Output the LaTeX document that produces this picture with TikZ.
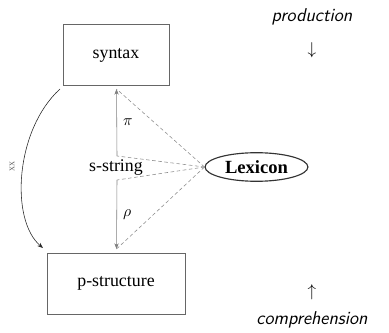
\documentclass[tikz,border=0pt]{standalone}
\usepackage{fontspec}
\setmainfont{Liberation Serif}
\usepackage{tikz}
\usetikzlibrary{arrows.meta, positioning, shapes.geometric}
\usepackage{xcolor}
\begin{document}
\begin{tikzpicture}[x=0.7pt,y=-0.7pt,font=\fontsize{12.5}{15}\selectfont,
    box/.style={draw=black!60,minimum height=43pt,align=center,inner sep=0pt},
    arr/.style={-{Stealth[length=4pt,width=3pt]},draw=black!50},
    lex/.style={dash pattern=on 2.5pt off 1.8pt,draw=black!45},
    dir/.style={font=\fontsize{13}{15}\selectfont\sffamily\itshape}]
    \useasboundingbox (0,0) rectangle (389,332);
    \node[box,minimum width=74pt] (syn) at (116,55) {syntax};
    \node[box,minimum width=96.5pt] (pst) at (116,283.5) {p-structure};
    \node (str) at (116,167.5) {s-string};
    \node[draw=black!80,thick,ellipse,inner sep=1pt,minimum width=72pt,minimum height=20pt,
          font=\fontsize{13}{15}\selectfont\bfseries] (lex) at (256.5,167) {Lexicon};
    \coordinate (st) at (117,156);
    \coordinate (sb) at (117,180);
    \coordinate (sa) at (116.5,89);
    \coordinate (pa) at (116.5,249);
    \coordinate (cs) at (60,89);
    \coordinate (ce) at (43,248);
    \draw[arr] (st)--(sa) node[midway,right=1pt,font=\fontsize{11}{13}\selectfont] (pi) {$\pi$};
    \draw[arr] (sb)--(pa) node[midway,right=1pt,font=\fontsize{11}{13}\selectfont] (rho) {$\rho$};
    \draw[lex] (lex.west)--(sa);\draw[lex] (lex.west)--(st);
    \draw[lex] (lex.west)--(sb);\draw[lex] (lex.west)--(pa);
    \draw[-{Stealth[length=4pt,width=3pt]},draw=black!85] (cs) .. controls (15,130) and (10,220) .. (ce);
    \node[rotate=90,font=\scriptsize,text=black!60] (xx) at (12,166) {xx};
    \node[dir] (prod) at (312,17) {production};
    \node (dn) at (312,50) {$\downarrow$};
    \node (up) at (312,292) {$\uparrow$};
    \node[dir] (comp) at (312,320) {comprehension};
  \end{tikzpicture}
\end{document}
